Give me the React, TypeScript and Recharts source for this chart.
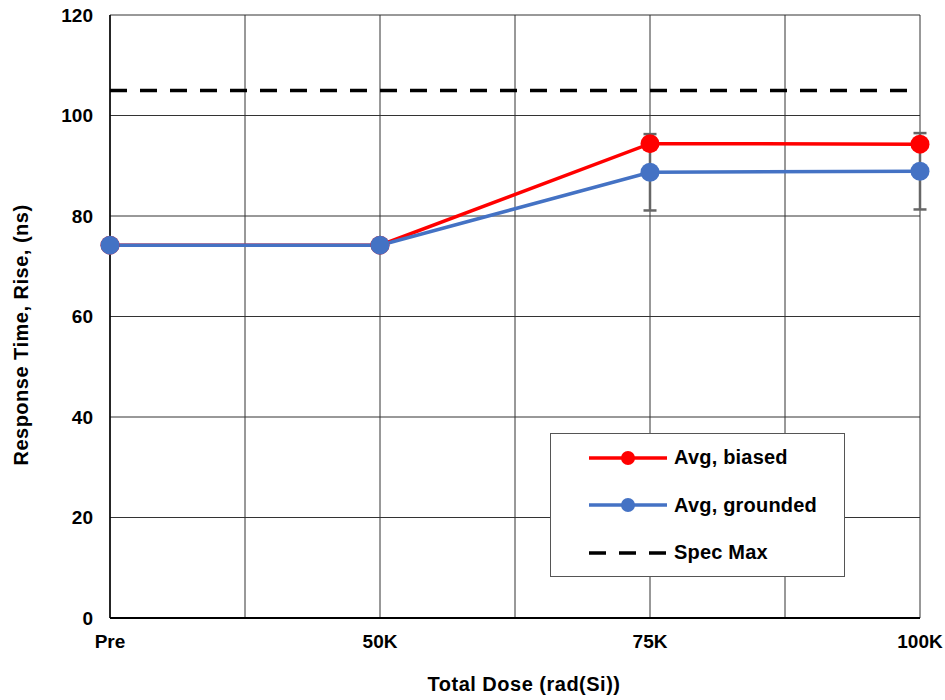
import { LineChart, Line, XAxis, YAxis, CartesianGrid, ErrorBar, Legend } from "recharts"

const categories = ["Pre", "50K", "75K", "100K"]
const avgBiased = [74.2, 74.2, 94.4, 94.3]
const avgGrounded = [74.2, 74.2, 88.7, 88.9]
const groundedErr = [0, 0, 7.6, 7.6]
const specMax = [105, 105, 105, 105]
const xTicks = [0, 0.5, 1, 1.5, 2, 2.5, 3]
const yTicks = [0, 20, 40, 60, 80, 100, 120]

const FONT = "'Liberation Sans', Arial, sans-serif"

const data = categories.map((name, i) => ({
  idx: i,
  name,
  biased: avgBiased[i],
  grounded: avgGrounded[i],
  err: groundedErr[i],
  spec: specMax[i],
}))

const legendItems = [
  { label: "Avg, biased", color: "#ff0000", dashed: false },
  { label: "Avg, grounded", color: "#4472c4", dashed: false },
  { label: "Spec Max", color: "#000000", dashed: true },
]

function LegendBox() {
  return (
    <div
      style={{
        width: 295,
        height: 144,
        boxSizing: "border-box",
        border: "1px solid #555",
        background: "#fff",
        fontFamily: FONT,
      }}
    >
      {legendItems.map((item) => (
        <div key={item.label} style={{ display: "flex", alignItems: "center", height: 47.5 }}>
          <svg width={123} height={24} style={{ flexShrink: 0 }}>
            <line
              x1={38}
              x2={116}
              y1={12}
              y2={12}
              stroke={item.color}
              strokeWidth={3.5}
              strokeDasharray={item.dashed ? "17 13" : undefined}
            />
            {!item.dashed && <circle cx={77} cy={12} r={7} fill={item.color} />}
          </svg>
          <span style={{ fontSize: 20, fontWeight: 700, color: "#000", letterSpacing: 0.2 }}>{item.label}</span>
        </div>
      ))}
    </div>
  )
}

const titleStyle = { fill: "#000", fontSize: 20, fontWeight: 700, fontFamily: FONT, letterSpacing: 0.5 }

export default function App() {
  return (
    <div style={{ position: "absolute", left: 0, top: 0, width: 945, height: 700, background: "#fff" }}>
      <LineChart width={945} height={700} data={data} margin={{ top: 15, right: 25, left: 0, bottom: 0 }}>
        <CartesianGrid stroke="#333" strokeWidth={1} />
        <XAxis
          type="number"
          dataKey="idx"
          domain={[0, 3]}
          ticks={xTicks}
          interval={0}
          height={82}
          tickLine={false}
          tickSize={0}
          tickMargin={17}
          axisLine={{ stroke: "#000", strokeWidth: 2 }}
          tick={{ fill: "#000", fontSize: 19, fontWeight: 700, fontFamily: FONT }}
          tickFormatter={(v: number) => (Number.isInteger(v) ? categories[v] : "")}
          label={{
            content: () => (
              <text x={524} y={691} textAnchor="middle" style={titleStyle}>
                Total Dose (rad(Si))
              </text>
            ),
          }}
        />
        <YAxis
          domain={[0, 120]}
          ticks={yTicks}
          width={110}
          tickLine={false}
          tickSize={0}
          tickMargin={17}
          axisLine={{ stroke: "#000", strokeWidth: 1.5 }}
          tick={{ fill: "#000", fontSize: 19, fontWeight: 700, fontFamily: FONT }}
          label={{
            content: () => (
              <text x={28} y={335} transform="rotate(-90 28 335)" textAnchor="middle" style={titleStyle}>
                Response Time, Rise, (ns)
              </text>
            ),
          }}
        />
        <Legend
          layout="vertical"
          align="center"
          verticalAlign="middle"
          content={() => <LegendBox />}
          wrapperStyle={{ left: 550, top: 433, right: "auto", bottom: "auto", width: 295, height: 144 }}
        />
        <Line
          dataKey="biased"
          stroke="#ff0000"
          strokeWidth={3.5}
          dot={{ r: 9.5, fill: "#ff0000", stroke: "#ff0000", strokeWidth: 0 }}
          isAnimationActive={false}
        />
        <Line
          dataKey="grounded"
          stroke="#4472c4"
          strokeWidth={3.5}
          dot={{ r: 9.5, fill: "#4472c4", stroke: "#4472c4", strokeWidth: 0 }}
          isAnimationActive={false}
        >
          <ErrorBar dataKey="err" direction="y" width={6.5} stroke="#666" strokeWidth={2.5} />
        </Line>
        <Line
          dataKey="spec"
          stroke="#000"
          strokeWidth={3.5}
          strokeDasharray="17 13"
          dot={false}
          isAnimationActive={false}
        />
      </LineChart>
    </div>
  )
}
